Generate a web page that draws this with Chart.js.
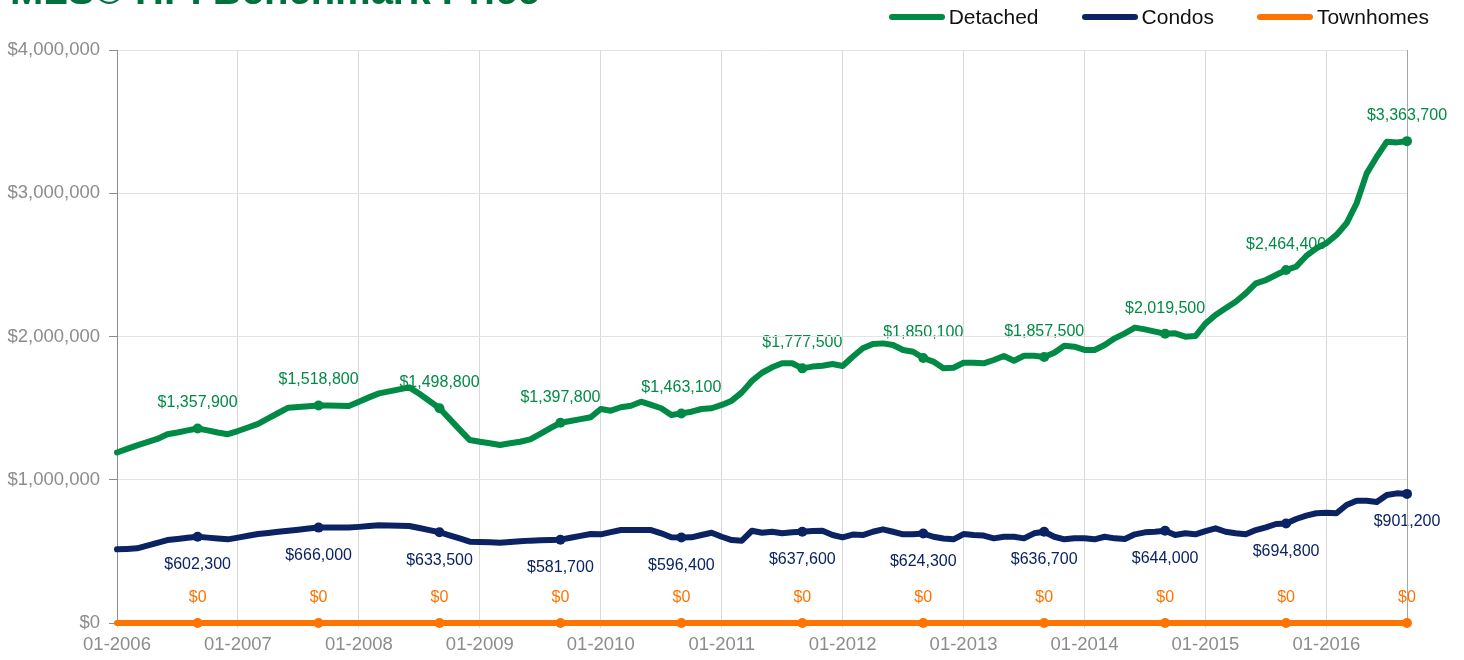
<!DOCTYPE html>
<html>
<head>
<meta charset="utf-8">
<script src="https://cdn.jsdelivr.net/npm/chart.js@4.4.0/dist/chart.umd.min.js"></script>
<style>
  body { margin: 0; background: #fff; font-family: "Liberation Sans", Arial, sans-serif; }
  #wrap { position: relative; width: 1464px; height: 660px; overflow: hidden; }
  #chart { display: block; }
  #title { position: absolute; left: 10px; top: -30px; font-weight: bold; font-size: 40px; line-height: 40px; color: #00703c; white-space: nowrap; }
  #legend { position: absolute; right: 35px; top: 5px; display: flex; gap: 43px; font-size: 21px; line-height: 24px; color: #111; }
  .item { display: flex; align-items: center; }
  .sw { width: 56px; height: 6px; border-radius: 3px; margin-right: 4px; }
</style>
</head>
<body>
<div id="wrap">
  <canvas id="chart" width="1464" height="660"></canvas>
  <div id="title">MLS® HPI Benchmark Price</div>
  <div id="legend"></div>
</div>
<script>
// months 01-2006 .. 09-2016
const months = [];
for (let y = 2006; y <= 2016; y++) {
  for (let m = 1; m <= 12; m++) {
    if (y === 2016 && m > 9) break;
    months.push(String(m).padStart(2, '0') + '-' + y);
  }
}

const detached = [
  1190000,1215000,1240000,1262000,1285000,1318000,1330000,1345000,1357900,1345000,1330000,1318000,
  1340000,1365000,1390000,1428000,1466000,1503000,1508000,1513000,1518800,1518000,1516000,1515000,
  1545000,1575000,1603000,1617000,1631000,1645000,1600000,1550000,1498800,1425000,1350000,1277000,
  1265000,1255000,1243000,1255000,1265000,1282000,1320000,1360000,1397800,1410000,1423000,1436000,
  1494000,1482000,1506000,1517000,1545000,1522000,1499000,1452000,1463100,1475000,1494000,1499000,
  1522000,1552000,1610000,1690000,1747000,1785000,1813000,1813000,1777500,1790000,1796000,1808000,
  1794000,1859000,1918000,1948000,1952000,1941000,1906000,1894000,1850100,1825000,1778000,1782000,
  1817000,1817000,1813000,1836000,1864000,1831000,1866000,1866000,1857500,1887000,1936000,1929000,
  1906000,1906000,1941000,1987000,2022000,2062000,2050000,2034000,2019500,2022000,1999000,2003000,
  2090000,2150000,2197000,2243000,2301000,2371000,2394000,2429000,2464400,2488000,2562000,2616000,
  2651000,2709000,2790000,2930000,3139000,3255000,3360000,3355000,3363700
];

const condos = [
  514000,517000,521000,540000,560000,579000,587000,595000,602300,596000,590000,584000,
  596000,609000,621000,629000,637000,644000,651000,659000,666000,666000,666000,666000,
  671000,677000,682000,680000,679000,677000,663000,648000,633500,612000,590000,568000,
  565000,563000,561000,566000,570000,575000,577000,579000,581700,595000,608000,621000,
  619000,634000,649000,649000,649000,649000,626000,598000,596400,598000,614000,630000,
  602000,579000,575000,644000,630000,637000,626000,633000,637600,642000,644000,614000,
  598000,617000,614000,637000,654000,637000,619000,619000,624300,602000,590000,584000,
  621000,614000,610000,591000,602000,602000,591000,626000,636700,602000,584000,591000,
  591000,584000,602000,591000,586000,619000,633000,637000,644000,614000,626000,619000,
  642000,661000,637000,626000,619000,649000,668000,691000,694800,726000,749000,766000,
  770000,766000,824000,854000,854000,845000,894000,905000,901200
];

const townhomes = [
  0,0,0,0,0,0,0,0,0,0,0,0,
  0,0,0,0,0,0,0,0,0,0,0,0,
  0,0,0,0,0,0,0,0,0,0,0,0,
  0,0,0,0,0,0,0,0,0,0,0,0,
  0,0,0,0,0,0,0,0,0,0,0,0,
  0,0,0,0,0,0,0,0,0,0,0,0,
  0,0,0,0,0,0,0,0,0,0,0,0,
  0,0,0,0,0,0,0,0,0,0,0,0,
  0,0,0,0,0,0,0,0,0,0,0,0,
  0,0,0,0,0,0,0,0,0,0,0,0,
  0,0,0,0,0,0,0,0,0
];

// labelled points: every September
const labelIdx = [8, 20, 32, 44, 56, 68, 80, 92, 104, 116, 128];

const fmt = v => '$' + Math.round(v).toLocaleString('en-US');
const FAMILY = '"Liberation Sans", Arial, Helvetica, sans-serif';
Chart.defaults.font.family = FAMILY;

// value labels, drawn under grid and lines
const pointLabels = {
  id: 'pointLabels',
  beforeDraw(chart) {
    const ctx = chart.ctx;
    ctx.save();
    ctx.font = '16px ' + FAMILY;
    ctx.textAlign = 'center';
    ctx.textBaseline = 'middle';
    chart.data.datasets.forEach((ds, di) => {
      const meta = chart.getDatasetMeta(di);
      ctx.fillStyle = ds.borderColor;
      labelIdx.forEach(i => {
        const pt = meta.data[i];
        if (pt) ctx.fillText(fmt(ds.data[i]), pt.x, pt.y + ds.labelOffset);
      });
    });
    ctx.restore();
  }
};

function series(label, data, color, labelOffset) {
  return {
    label, data, labelOffset,
    borderColor: color, backgroundColor: color,
    borderWidth: 6, tension: 0, clip: false,
    borderJoinStyle: 'round', borderCapStyle: 'round',
    pointRadius: c => labelIdx.includes(c.dataIndex) ? 5 : 0,
    pointBorderWidth: 0,
    pointBackgroundColor: color
  };
}

const chart = new Chart(document.getElementById('chart'), {
  type: 'line',
  data: {
    labels: months,
    datasets: [
      series('Detached', detached, '#008a45', -25.5),
      series('Condos', condos, '#0b2363', 28),
      series('Townhomes', townhomes, '#ff7300', -25)
    ]
  },
  plugins: [pointLabels],
  options: {
    responsive: false,
    animation: false,
    events: [],
    layout: { padding: { top: 50, right: 57, bottom: 0, left: 0 } },
    plugins: { legend: { display: false }, tooltip: { enabled: false } },
    scales: {
      x: {
        type: 'category',
        offset: false,
        border: { display: false },
        grid: {
          color: c => c.index === 128 ? '#a6a6a6' : (c.index % 12 === 0 ? '#d9d9d9' : 'rgba(0,0,0,0)'),
          tickLength: 5
        },
        ticks: {
          autoSkip: false, maxRotation: 0, minRotation: 0, padding: 6,
          color: '#8c8c8c', font: { size: 18.5 },
          callback: (v, i) => months[i].startsWith('01-') ? months[i] : ''
        },
        afterFit: s => { s.height = 37; }
      },
      y: {
        min: 0, max: 4000000,
        border: { color: '#8c8c8c' },
        grid: { color: '#e3e3e3', tickColor: '#8c8c8c', tickLength: 8 },
        ticks: {
          stepSize: 1000000, padding: 9,
          color: '#8c8c8c', font: { size: 18.5 },
          callback: v => fmt(v)
        },
        afterFit: s => { s.width = 117; }
      }
    }
  }
});

// legend from the datasets
const legend = document.getElementById('legend');
chart.data.datasets.forEach(ds => {
  legend.insertAdjacentHTML('beforeend',
    `<div class="item"><span class="sw" style="background:${ds.borderColor}"></span>${ds.label}</div>`);
});
</script>
</body>
</html>
